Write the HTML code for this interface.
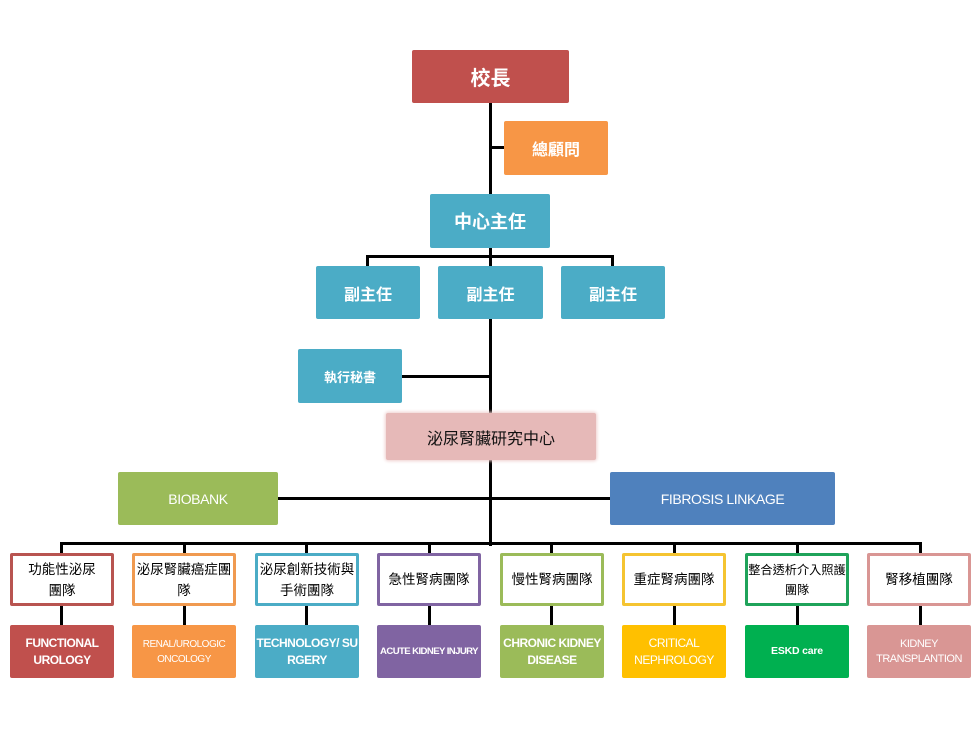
<!DOCTYPE html>
<html><head><meta charset="utf-8"><style>
*{margin:0;padding:0;box-sizing:border-box}
body{width:979px;height:729px;background:#fff;position:relative;overflow:hidden;font-family:"Liberation Sans","Noto Sans CJK TC",sans-serif}
.b{position:absolute;display:flex;align-items:center;justify-content:center;text-align:center;color:#fff;border-radius:2px}
.l{position:absolute;background:#000}
.cn{font-family:"Liberation Sans","Noto Sans CJK TC",sans-serif;font-weight:bold}
.t{position:absolute;top:553px;width:104px;height:53px;background:#fff;border:3px solid;display:flex;align-items:center;justify-content:center;text-align:center;color:#000;font-size:13.5px;line-height:21px;white-space:nowrap;font-family:"Liberation Sans","Noto Sans CJK TC",sans-serif;border-radius:2px}
.e{position:absolute;top:625px;width:104px;height:53px;display:flex;align-items:center;justify-content:center;text-align:center;color:#fff;font-size:12px;line-height:17px;font-weight:bold;letter-spacing:-0.5px;border-radius:2px;white-space:nowrap}
</style></head><body>
<!-- lines -->
<div class="l" style="left:489px;top:100px;width:3px;height:446px"></div>
<div class="l" style="left:490px;top:146px;width:16px;height:3px"></div>
<div class="l" style="left:366px;top:255px;width:248px;height:3px"></div>
<div class="l" style="left:366px;top:255px;width:3px;height:13px"></div>
<div class="l" style="left:611px;top:255px;width:3px;height:13px"></div>
<div class="l" style="left:400px;top:375px;width:91px;height:3px"></div>
<div class="l" style="left:276px;top:497px;width:336px;height:3px"></div>
<div class="l" style="left:60px;top:542px;width:862px;height:3px"></div>

<div class="l" style="left:60px;top:542px;width:3px;height:84px"></div>
<div class="l" style="left:183px;top:542px;width:3px;height:84px"></div>
<div class="l" style="left:305px;top:542px;width:3px;height:84px"></div>
<div class="l" style="left:428px;top:542px;width:3px;height:84px"></div>
<div class="l" style="left:550px;top:542px;width:3px;height:84px"></div>
<div class="l" style="left:673px;top:542px;width:3px;height:84px"></div>
<div class="l" style="left:796px;top:542px;width:3px;height:84px"></div>
<div class="l" style="left:919px;top:542px;width:3px;height:84px"></div>

<!-- top boxes -->
<div class="b cn" style="left:412px;top:50px;width:157px;height:53px;background:#C0504D;font-size:20px">校長</div>
<div class="b cn" style="left:504px;top:121px;width:104px;height:54px;background:#F79646;font-size:16px">總顧問</div>
<div class="b cn" style="left:430px;top:194px;width:120px;height:54px;background:#4BACC6;font-size:18px">中心主任</div>
<div class="b cn" style="left:316px;top:266px;width:104px;height:53px;background:#4BACC6;font-size:16px">副主任</div>
<div class="b cn" style="left:438px;top:266px;width:105px;height:53px;background:#4BACC6;font-size:16px">副主任</div>
<div class="b cn" style="left:561px;top:266px;width:104px;height:53px;background:#4BACC6;font-size:16px">副主任</div>
<div class="b cn" style="left:298px;top:349px;width:104px;height:54px;background:#4BACC6;font-size:13px">執行秘書</div>
<div class="b" style="left:386px;top:413px;width:210px;height:47px;background:#E6B9B8;color:#111;font-size:16px;box-shadow:0 0 3px 1px #efcfce">泌尿腎臟研究中心</div>
<div class="b" style="left:118px;top:472px;width:160px;height:53px;background:#9BBB59;font-size:14px;letter-spacing:-0.4px">BIOBANK</div>
<div class="b" style="left:610px;top:472px;width:225px;height:53px;background:#4F81BD;font-size:14px;letter-spacing:-0.4px">FIBROSIS LINKAGE</div>

<!-- team boxes -->
<div class="t" style="left:10px;border-color:#B85450">功能性泌尿<br>團隊</div>
<div class="t" style="left:132px;border-color:#F09A50">泌尿腎臟癌症團<br>隊</div>
<div class="t" style="left:255px;border-color:#4BACC6">泌尿創新技術與<br>手術團隊</div>
<div class="t" style="left:377px;border-color:#8064A2">急性腎病團隊</div>
<div class="t" style="left:500px;border-color:#9BBB59">慢性腎病團隊</div>
<div class="t" style="left:622px;border-color:#F5C431">重症腎病團隊</div>
<div class="t" style="left:745px;border-color:#1FA35A;font-size:12.2px;line-height:20px">整合透析介入照護<br>團隊</div>
<div class="t" style="left:867px;border-color:#D99694">腎移植團隊</div>

<div class="e" style="left:10px;background:#C0504D">FUNCTIONAL<br>UROLOGY</div>
<div class="e" style="left:132px;background:#F79646;font-size:10px;font-weight:normal;line-height:15px">RENAL/UROLOGIC<br>ONCOLOGY</div>
<div class="e" style="left:255px;background:#4BACC6">TECHNOLOGY/ SU<br>RGERY</div>
<div class="e" style="left:377px;background:#8064A2;font-size:9.6px;letter-spacing:-0.6px">ACUTE KIDNEY INJURY</div>
<div class="e" style="left:500px;background:#9BBB59">CHRONIC KIDNEY<br>DISEASE</div>
<div class="e" style="left:622px;background:#FFC000;font-weight:normal">CRITICAL<br>NEPHROLOGY</div>
<div class="e" style="left:745px;background:#00B050;font-size:10.5px;letter-spacing:-0.2px">ESKD care</div>
<div class="e" style="left:867px;background:#D99694;font-size:11px;font-weight:normal;line-height:15px">KIDNEY<br>TRANSPLANTION</div>
</body></html>
